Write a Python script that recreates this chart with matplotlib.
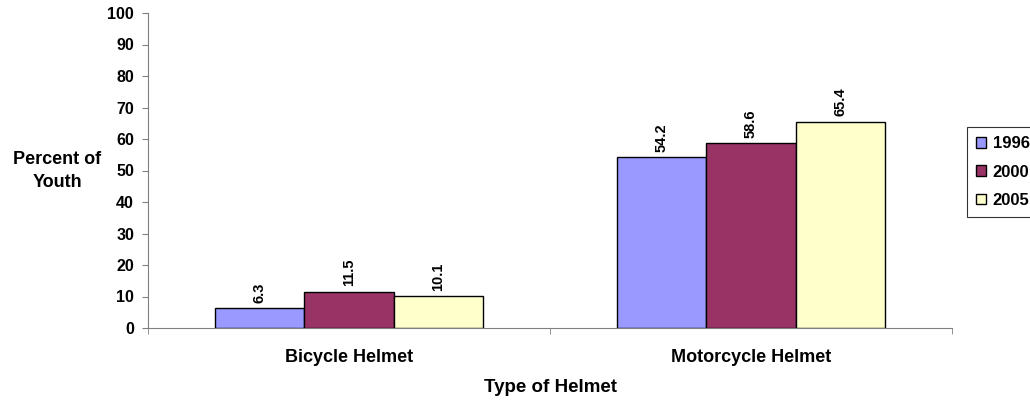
import matplotlib
matplotlib.use("Agg")
import matplotlib.pyplot as plt
import numpy as np

categories = ["Bicycle Helmet", "Motorcycle Helmet"]
years = ["1996", "2000", "2005"]
values_1996 = [6.3, 54.2]
values_2000 = [11.5, 58.6]
values_2005 = [10.1, 65.4]
yticks = list(range(0, 101, 10))

colors = ["#9999FF", "#993366", "#FFFFCC"]

plt.rcParams['font.family'] = ['Liberation Sans', 'DejaVu Sans']
plt.rcParams['font.weight'] = 'bold'

fig = plt.figure(figsize=(10.30, 4.03), dpi=100)
ax = fig.add_axes([148/1030, 75/403, (952-148)/1030, 315/403])

x = np.arange(len(categories))
w = 0.222
series = [values_1996, values_2000, values_2005]
handles = []
for i, (vals, c, yr) in enumerate(zip(series, colors, years)):
    bars = ax.bar(x + (i - 1) * w, vals, width=w, color=c, edgecolor="black",
                  linewidth=1.0, label=yr, zorder=3)
    handles.append(bars)
    for b, v in zip(bars, vals):
        ax.annotate(f"{v:.1f}", (b.get_x() + b.get_width() / 2, v),
                    xytext=(0, 4), textcoords="offset points", rotation=90,
                    ha="center", va="bottom", fontsize=10.5, fontweight="bold")

ax.set_xlim(-0.5, 1.5)
ax.set_ylim(0, 100)
ax.set_yticks(yticks)
ax.set_yticklabels([str(t) for t in yticks], fontsize=11.5, fontweight="bold")
ax.set_xticks(x)
ax.set_xticklabels(categories, fontsize=13, fontweight="bold")
ax.tick_params(axis="x", length=0, pad=15)
ax.set_xticks([-0.5, 0.5, 1.5], minor=True)
ax.tick_params(axis="x", which="minor", length=4, direction="out", color="#808080")
ax.tick_params(axis="y", length=4, direction="out", color="#808080", pad=6)

for s in ["top", "right"]:
    ax.spines[s].set_visible(False)
ax.spines["left"].set_color("#808080")
ax.spines["bottom"].set_color("#808080")

fig.text(57/1030, 1 - 171/403, "Percent of\nYouth", ha="center", va="center",
         fontsize=13, fontweight="bold", linespacing=1.4)
fig.text(550/1030, 1 - 388/403, "Type of Helmet", ha="center", va="center",
         fontsize=13.5, fontweight="bold")

leg = fig.legend(handles=handles, labels=years, loc="upper left",
                 bbox_to_anchor=(967/1030, 1 - 127/403), frameon=True,
                 fancybox=False, edgecolor="black", fontsize=12,
                 handlelength=0.6, handleheight=0.6, handletextpad=0.4,
                 borderpad=0.55, labelspacing=0.8, borderaxespad=0)
leg.get_frame().set_linewidth(0.8)
for t in leg.get_texts():
    t.set_fontweight("bold")

fig.savefig("out.png", dpi=100)
